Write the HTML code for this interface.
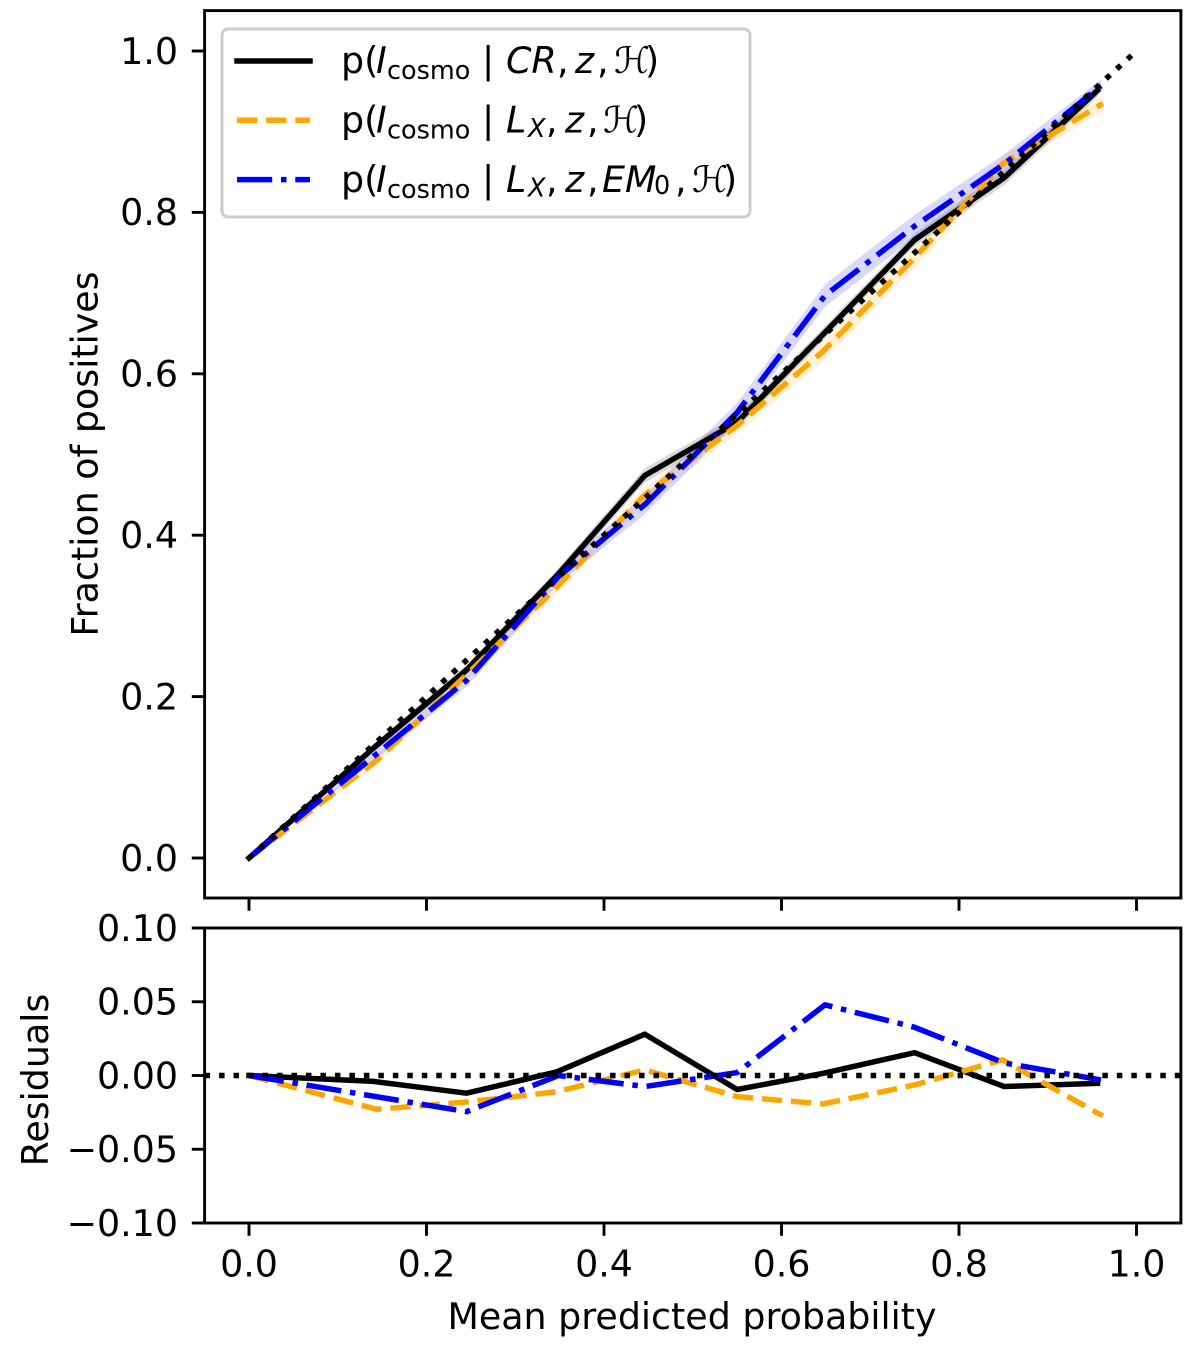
<!DOCTYPE html>
<html lang="en">
<head>
<meta charset="utf-8">
<title>Calibration curves and residuals</title>
<style>
html,body{margin:0;padding:0;background:#fff;}
body{width:1200px;height:1345px;overflow:hidden;}
svg{display:block;}
text{font-family:"DejaVu Sans","Liberation Sans",sans-serif;fill:#000;}
.tick-label{font-size:36.4px;}
.axis-title{font-size:36.4px;}
.leg{font-size:36.4px;}
.leg .i{font-style:italic;}
.leg .s{font-size:25.5px;}
</style>
</head>
<body>
<svg id="chart" xmlns="http://www.w3.org/2000/svg" width="1200" height="1345" viewBox="0 0 1200 1345">
  <g id="main-bands"></g>
  <g id="main-lines"></g>
  <g id="resid-lines"></g>
  <g id="axes"></g>

  <text class="axis-title" transform="translate(97.5,454) rotate(-90)" text-anchor="middle">Fraction of positives</text>
  <text class="axis-title" transform="translate(48,1080) rotate(-90)" text-anchor="middle">Residuals</text>
  <text class="axis-title" x="692" y="1329" text-anchor="middle">Mean predicted probability</text>

  <g>
    <rect x="222" y="29" width="528" height="188" rx="6" ry="6" fill="#fff" fill-opacity="0.8" stroke="#ccc" stroke-width="3"/>
    <g>
      <line x1="237" x2="310" y1="61" y2="61" stroke="#000" stroke-width="5.5" stroke-linecap="square"/>
      <text class="leg" y="73"><tspan x="341">p(</tspan><tspan class="i" x="376">I</tspan><tspan class="s" x="387" dy="6">cosmo</tspan><tspan x="482" dy="-6">|</tspan><tspan class="i" x="506">CR</tspan><tspan x="557">,</tspan><tspan class="i" x="575">z</tspan><tspan x="597">,</tspan><tspan x="614">ℋ</tspan><tspan x="645">)</tspan></text>
    </g>
    <g>
      <line x1="237" x2="310" y1="120.3" y2="120.3" stroke="#ffa500" stroke-width="5.5" stroke-dasharray="20.35 8.8"/>
      <text class="leg" y="132.5"><tspan x="341">p(</tspan><tspan class="i" x="376">I</tspan><tspan class="s" x="387" dy="6">cosmo</tspan><tspan x="482" dy="-6">|</tspan><tspan class="i" x="506">L</tspan><tspan class="i s" x="528" dy="4.5">X</tspan><tspan x="546" dy="-4.5">,</tspan><tspan class="i" x="565">z</tspan><tspan x="587">,</tspan><tspan x="603">ℋ</tspan><tspan x="634">)</tspan></text>
    </g>
    <g>
      <line x1="237" x2="310" y1="179.6" y2="179.6" stroke="#0000ff" stroke-width="5.5" stroke-dasharray="35.2 8.8 5.5 8.8"/>
      <text class="leg" y="192"><tspan x="341">p(</tspan><tspan class="i" x="376">I</tspan><tspan class="s" x="387" dy="6">cosmo</tspan><tspan x="482" dy="-6">|</tspan><tspan class="i" x="506">L</tspan><tspan class="i s" x="528" dy="4.5">X</tspan><tspan x="546" dy="-4.5">,</tspan><tspan class="i" x="565">z</tspan><tspan x="587">,</tspan><tspan class="i" x="602">EM</tspan><tspan class="s" x="654" dy="2">0</tspan><tspan x="675" dy="-2">,</tspan><tspan x="692">ℋ</tspan><tspan x="723">)</tspan></text>
    </g>
  </g>
</svg>
<script>
// Mean predicted probability for each series
const xBlack  = [0, 0.14, 0.245, 0.347, 0.446, 0.55, 0.647, 0.75, 0.851, 0.956];
const xOrange = [0, 0.144, 0.245, 0.347, 0.446, 0.55, 0.647, 0.75, 0.849, 0.962];
const xBlue   = [0, 0.145, 0.245, 0.349, 0.446, 0.55, 0.649, 0.75, 0.851, 0.96];

// Fraction of positives for each series
const fracBlack  = [0, 0.136, 0.233, 0.35, 0.474, 0.54, 0.649, 0.766, 0.843, 0.951];
const fracOrange = [0, 0.121, 0.227, 0.336, 0.45, 0.536, 0.628, 0.744, 0.86, 0.935];
const fracBlue   = [0, 0.13, 0.22, 0.349, 0.438, 0.552, 0.697, 0.783, 0.86, 0.957];

// Half-width of the shaded uncertainty bands
const errBlack  = [0, 0.005, 0.006, 0.007, 0.009, 0.008, 0.008, 0.008, 0.009, 0.008];
const errOrange = [0, 0.006, 0.007, 0.008, 0.010, 0.010, 0.012, 0.012, 0.010, 0.010];
const errBlue   = [0, 0.006, 0.008, 0.009, 0.012, 0.012, 0.014, 0.014, 0.012, 0.008];

// Residuals for each series
const resBlack  = [0, -0.004, -0.012, 0.0025, 0.028, -0.0095, 0.0015, 0.0155, -0.0075, -0.0053];
const resOrange = [0, -0.0229, -0.018, -0.011, 0.0038, -0.0143, -0.0193, -0.0064, 0.0106, -0.0274];
const resBlue   = [0, -0.0145, -0.0245, 0, -0.0075, 0.002, 0.0479, 0.0327, 0.0085, -0.003];

// Reference lines
const diagonal = [0, 1];
const zeroLine = [0];

// Tick values and labels
const xTicks = [0, 0.2, 0.4, 0.6, 0.8, 1.0];
const xTickLabels = ["0.0", "0.2", "0.4", "0.6", "0.8", "1.0"];
const yTicks = [0, 0.2, 0.4, 0.6, 0.8, 1.0];
const yTickLabels = ["0.0", "0.2", "0.4", "0.6", "0.8", "1.0"];
const rTicks = [-0.1, -0.05, 0, 0.05, 0.1];
const rTickLabels = ["\u22120.10", "\u22120.05", "0.00", "0.05", "0.10"];

const NS = "http://www.w3.org/2000/svg";
const LEFT = 204.6, RIGHT = 1180.9;
const MAIN_TOP = 10.6, MAIN_BOTTOM = 898;
const RES_TOP = 928, RES_BOTTOM = 1223;

function sx(v) { return 249 + 887.5 * v; }
function sy(v) { return 858 - 807 * v; }
function sr(v) { return 1075.5 - 1475 * v; }

function make(tag, attrs, parent) {
  const el = document.createElementNS(NS, tag);
  for (const k in attrs) el.setAttribute(k, attrs[k]);
  parent.appendChild(el);
  return el;
}
function linePath(xs, ys, fy) {
  return xs.map((x, i) => (i ? "L" : "M") + sx(x).toFixed(2) + " " + fy(ys[i]).toFixed(2)).join(" ");
}
function bandPath(xs, ys, es) {
  const up = xs.map((x, i) => sx(x).toFixed(2) + " " + sy(ys[i] + es[i]).toFixed(2));
  const lo = xs.map((x, i) => sx(x).toFixed(2) + " " + sy(ys[i] - es[i]).toFixed(2)).reverse();
  return "M" + up.concat(lo).join(" L") + " Z";
}

const DASH_ORANGE = "20.35 8.8";
const DASH_BLUE = "35.2 8.8 5.5 8.8";
const DASH_DOT = "5.5 8.98";

const bands = document.getElementById("main-bands");
const mainLines = document.getElementById("main-lines");
const residLines = document.getElementById("resid-lines");
const axes = document.getElementById("axes");

// Shaded bands
const bandBlack = make("path", {d: bandPath(xBlack, fracBlack, errBlack), fill: "#000", "fill-opacity": 0.15}, bands);


const bandOrange = make("path", {d: bandPath(xOrange, fracOrange, errOrange), fill: "#ffa500", "fill-opacity": 0.15}, bands);


const bandBlue = make("path", {d: bandPath(xBlue, fracBlue, errBlue), fill: "#0000ff", "fill-opacity": 0.15}, bands);



// Main panel lines
const common = {fill: "none", "stroke-width": 5.5, "stroke-linejoin": "round"};
const mainBlack = make("path", Object.assign({d: linePath(xBlack, fracBlack, sy), stroke: "#000", "stroke-linecap": "square"}, common), mainLines);


const mainOrange = make("path", Object.assign({d: linePath(xOrange, fracOrange, sy), stroke: "#ffa500", "stroke-dasharray": DASH_ORANGE}, common), mainLines);


const mainBlue = make("path", Object.assign({d: linePath(xBlue, fracBlue, sy), stroke: "#0000ff", "stroke-dasharray": DASH_BLUE}, common), mainLines);


const mainDiag = make("path", Object.assign({d: linePath(diagonal, diagonal, sy), stroke: "#000", "stroke-dasharray": DASH_DOT}, common), mainLines);



// Residual panel lines
const resA = make("path", Object.assign({d: linePath(xBlack, resBlack, sr), stroke: "#000", "stroke-linecap": "square"}, common), residLines);


const resB = make("path", Object.assign({d: linePath(xOrange, resOrange, sr), stroke: "#ffa500", "stroke-dasharray": DASH_ORANGE}, common), residLines);


const resC = make("path", Object.assign({d: linePath(xBlue, resBlue, sr), stroke: "#0000ff", "stroke-dasharray": DASH_BLUE}, common), residLines);


const resZero = make("line", {x1: LEFT, x2: RIGHT, y1: sr(zeroLine[0]), y2: sr(zeroLine[0]), stroke: "#000", "stroke-width": 5.5, "stroke-dasharray": DASH_DOT}, residLines);



// Frames
const frameMain = make("rect", {x: LEFT, y: MAIN_TOP, width: RIGHT - LEFT, height: MAIN_BOTTOM - MAIN_TOP, fill: "none", stroke: "#000", "stroke-width": 2.9}, axes);


const frameRes = make("rect", {x: LEFT, y: RES_TOP, width: RIGHT - LEFT, height: RES_BOTTOM - RES_TOP, fill: "none", stroke: "#000", "stroke-width": 2.9}, axes);



// X ticks
xTicks.forEach((v, i) => {
  const t1 = make("line", {x1: sx(v), x2: sx(v), y1: MAIN_BOTTOM, y2: MAIN_BOTTOM + 12.8, stroke: "#000", "stroke-width": 2.9}, axes);
  
  
  const t2 = make("line", {x1: sx(v), x2: sx(v), y1: RES_BOTTOM, y2: RES_BOTTOM + 12.8, stroke: "#000", "stroke-width": 2.9}, axes);
  
  
  const lab = make("text", {x: sx(v), y: 1276.7, "text-anchor": "middle", class: "tick-label"}, axes);
  
  
  lab.textContent = xTickLabels[i];
});

// Main Y ticks
yTicks.forEach((v, i) => {
  const t = make("line", {x1: LEFT - 12.8, x2: LEFT, y1: sy(v), y2: sy(v), stroke: "#000", "stroke-width": 2.9}, axes);
  
  
  const lab = make("text", {x: 178, y: sy(v) + 12.8, "text-anchor": "end", class: "tick-label"}, axes);
  
  
  lab.textContent = yTickLabels[i];
});

// Residual Y ticks
rTicks.forEach((v, i) => {
  const t = make("line", {x1: LEFT - 12.8, x2: LEFT, y1: sr(v), y2: sr(v), stroke: "#000", "stroke-width": 2.9}, axes);
  
  
  const lab = make("text", {x: 178, y: sr(v) + 12.8, "text-anchor": "end", class: "tick-label"}, axes);
  
  
  lab.textContent = rTickLabels[i];
});
</script>
</body>
</html>
